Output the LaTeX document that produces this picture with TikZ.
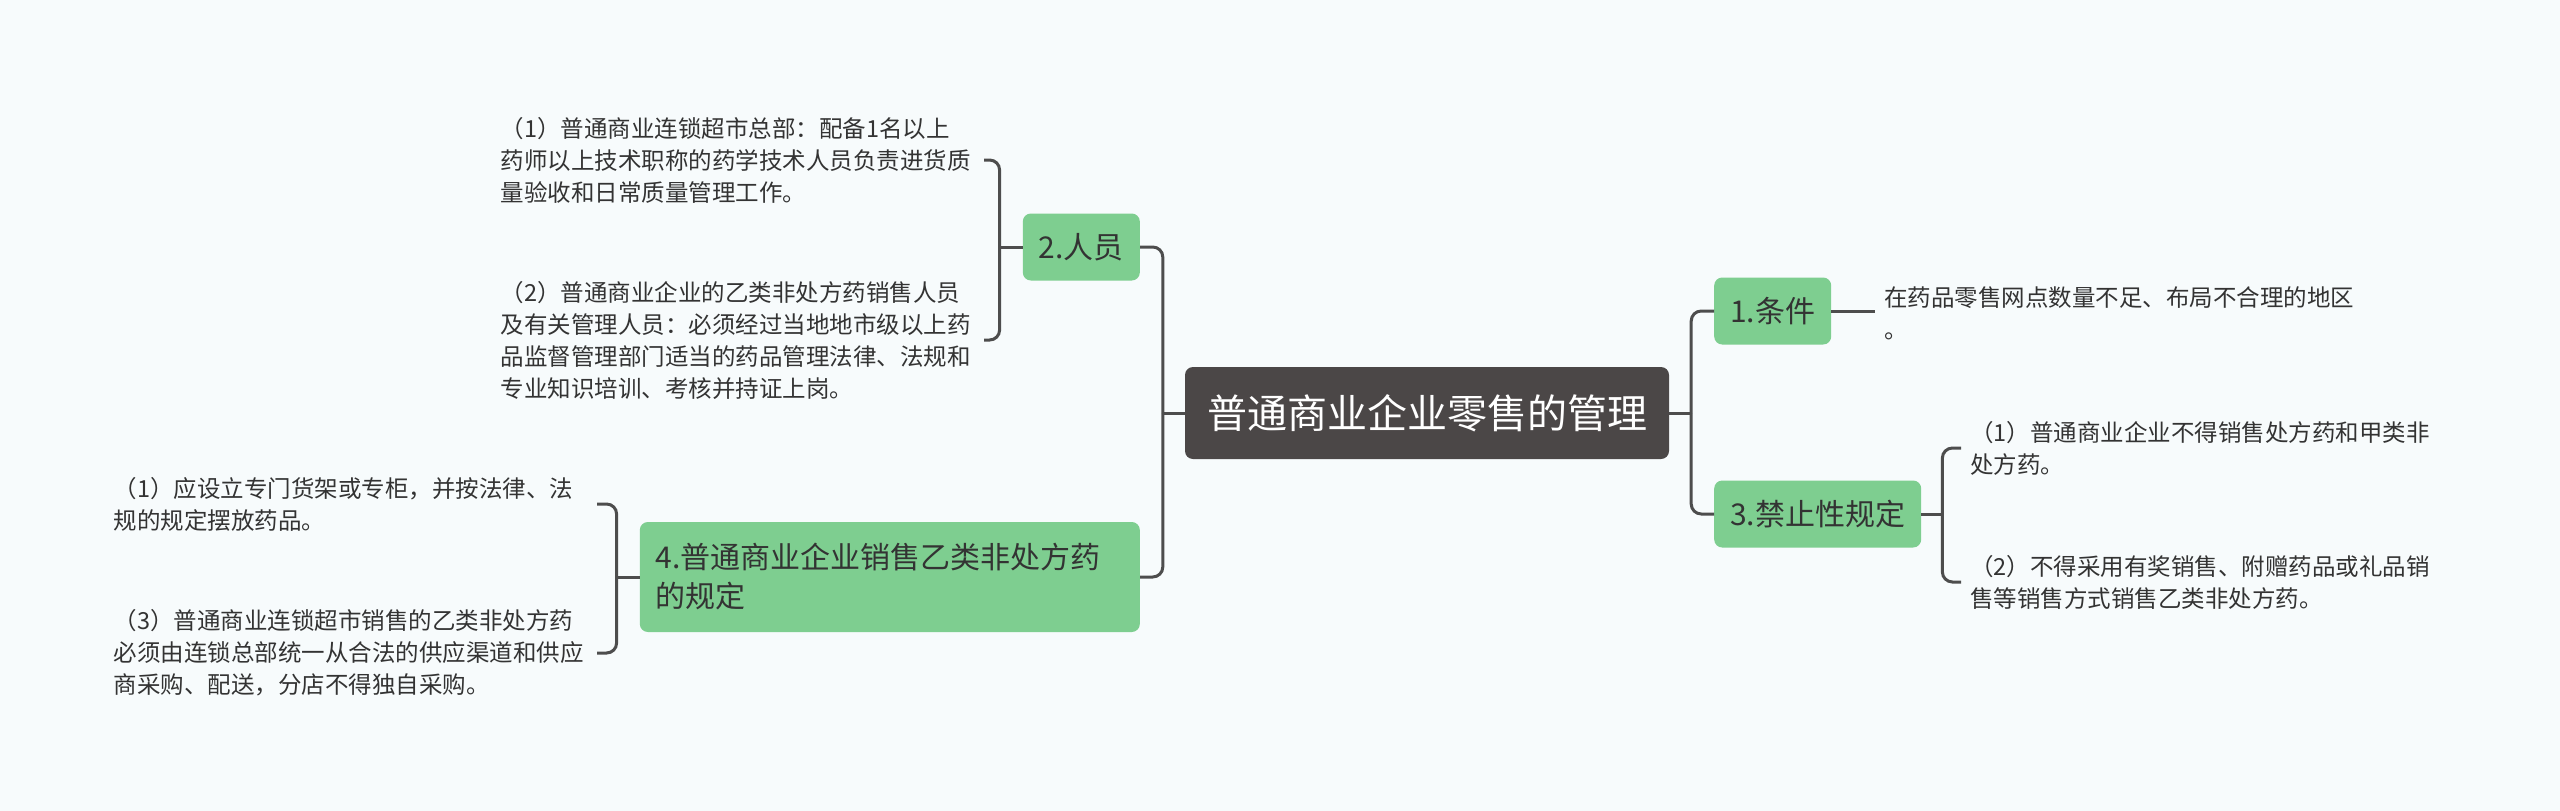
\documentclass[tikz,border=0pt]{standalone}
\usepackage{fontspec}
\setmainfont{Noto Sans CJK SC}
\usetikzlibrary{positioning}
\definecolor{mmbg}{RGB}{247,251,252}
\definecolor{mmgreen}{RGB}{126,206,144}
\definecolor{mmroot}{RGB}{75,71,71}
\definecolor{mmline}{RGB}{77,77,77}
\definecolor{mmtext}{RGB}{51,51,51}

\begin{document}
\begin{tikzpicture}[x=1pt,y=-1pt,
  rootbox/.style={fill=mmroot,text=white,rounded corners=8pt,inner xsep=22pt,minimum height=92pt,font=\fontsize{40}{48}\selectfont},
  topic/.style={fill=mmgreen,text=mmtext,rounded corners=8pt,inner xsep=16pt,minimum height=67pt,align=left,font=\fontsize{30}{39}\selectfont},
  leaf/.style={text=mmtext,text width=474pt,align=left,inner xsep=9pt,inner ysep=0pt,font=\fontsize{23.5}{32}\selectfont},
  link/.style={draw=mmline,line width=3pt,rounded corners=10pt}]
  \useasboundingbox[fill=mmbg] (0,0) rectangle (2560,811);
  \node[rootbox] (r) at (1427,413) {普通商业企业零售的管理};
  \node[topic,anchor=east] (b2) at (1140,247) {2.人员};
  \node[topic,anchor=east,minimum height=110pt,text width=468pt] (b4) at (1140,577) {4.普通商业企业销售乙类非处方药\\的规定};
  \node[topic,anchor=west] (b1) at (1714,311) {1.条件};
  \node[topic,anchor=west] (b3) at (1714,514) {3.禁止性规定};
  \node[leaf,anchor=east] (l21) at (984,160) {（1）普通商业连锁超市总部：配备1名以上\\药师以上技术职称的药学技术人员负责进货质\\量验收和日常质量管理工作。};
  \node[leaf,anchor=east] (l22) at (984,340) {（2）普通商业企业的乙类非处方药销售人员\\及有关管理人员：必须经过当地地市级以上药\\品监督管理部门适当的药品管理法律、法规和\\专业知识培训、考核并持证上岗。};
  \node[leaf,anchor=east] (l41) at (597,504) {（1）应设立专门货架或专柜，并按法律、法\\规的规定摆放药品。};
  \node[leaf,anchor=east] (l43) at (597,653) {（3）普通商业连锁超市销售的乙类非处方药\\必须由连锁总部统一从合法的供应渠道和供应\\商采购、配送，分店不得独自采购。};
  \node[leaf,anchor=west] (l11) at (1875,313) {在药品零售网点数量不足、布局不合理的地区\\。};
  \node[leaf,anchor=west] (l31) at (1961,448) {（1）普通商业企业不得销售处方药和甲类非\\处方药。};
  \node[leaf,anchor=west] (l32) at (1961,582) {（2）不得采用有奖销售、附赠药品或礼品销\\售等销售方式销售乙类非处方药。};
  \coordinate (jl) at ([xshift=-22pt]r.west);
  \coordinate (jr) at ([xshift=22pt]r.east);
  \coordinate (j2) at ([xshift=-23pt]b2.west);
  \coordinate (j4) at ([xshift=-23pt]b4.west);
  \coordinate (j3) at ([xshift=21pt]b3.east);
  \draw[link] (r.west) -- (jl) (r.east) -- (jr) (b2.west) -- (j2) (b4.west) -- (j4) (b3.east) -- (j3);
  \foreach \b in {b2,b4} \draw[link] (jl) |- (\b.east);
  \foreach \b in {b1,b3} \draw[link] (jr) |- (\b.west);
  \foreach \l in {l21,l22} \draw[link] (j2) |- (\l.east);
  \foreach \l in {l41,l43} \draw[link] (j4) |- (\l.east);
  \foreach \l in {l31,l32} \draw[link] (j3) |- (\l.west);
  \draw[link] (b1.east) -- (b1.east -| l11.west);
\end{tikzpicture}
\end{document}
